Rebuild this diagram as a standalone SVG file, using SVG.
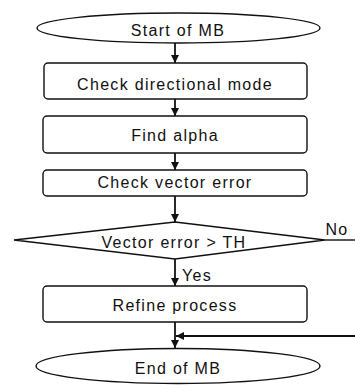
<svg xmlns="http://www.w3.org/2000/svg" width="355" height="385" viewBox="0 0 355 385">
<style>
.s{fill:#fff;stroke:#111;stroke-width:1.4}
.t{font-family:"Liberation Sans",Arial,sans-serif;font-size:16px;letter-spacing:1.3px;fill:#111;text-anchor:middle}
.c{fill:none;stroke:#111;stroke-width:1.8}
</style>
<defs>
<marker id="ah" viewBox="0 0 10 10" refX="10" refY="5" markerWidth="4.5" markerHeight="4.5" orient="auto" markerUnits="strokeWidth">
<path d="M0,0 L10,5 L0,10 z" fill="#111"/>
</marker>
</defs>
<rect width="355" height="385" fill="#fff"/>
<g id="connectors">
<line class="c" x1="175" y1="43" x2="175" y2="63" marker-end="url(#ah)"/>
<line class="c" x1="175" y1="99" x2="175" y2="116" marker-end="url(#ah)"/>
<line class="c" x1="175" y1="153" x2="175" y2="170" marker-end="url(#ah)"/>
<line class="c" x1="175" y1="196" x2="175" y2="222" marker-end="url(#ah)"/>
<line class="c" x1="175" y1="259" x2="175" y2="286" marker-end="url(#ah)"/>
<line class="c" x1="175" y1="322" x2="175" y2="348" marker-end="url(#ah)"/>
<line class="c" x1="325" y1="240" x2="355" y2="240" style="stroke-width:1.4"/>
<line class="c" x1="355" y1="336" x2="176" y2="336" marker-end="url(#ah)"/>
<text class="t" x="337" y="235">No</text>
<text class="t" x="197" y="281">Yes</text>
</g>
<g id="start">
<ellipse class="s" cx="178.5" cy="28" rx="141.5" ry="15"/>
<text class="t" x="178" y="36">Start of MB</text>
</g>
<g id="check-directional">
<rect class="s" x="44" y="63" width="263" height="36" rx="4"/>
<text class="t" x="175" y="90">Check directional mode</text>
</g>
<g id="find-alpha">
<rect class="s" x="43" y="116" width="264" height="37" rx="4"/>
<text class="t" x="175" y="141">Find alpha</text>
</g>
<g id="check-vector">
<rect class="s" x="43" y="170" width="264" height="26" rx="4"/>
<text class="t" x="175" y="188">Check vector error</text>
</g>
<g id="decision">
<polygon class="s" points="175,222 325,240 175,259 14,240"/>
<text class="t" x="174" y="248">Vector error &gt; TH</text>
</g>
<g id="refine">
<rect class="s" x="43" y="286" width="264" height="36" rx="4"/>
<text class="t" x="175" y="311">Refine process</text>
</g>
<g id="end">
<ellipse class="s" cx="178" cy="366" rx="142" ry="17.5"/>
<text class="t" x="178" y="374">End of MB</text>
</g>
</svg>
